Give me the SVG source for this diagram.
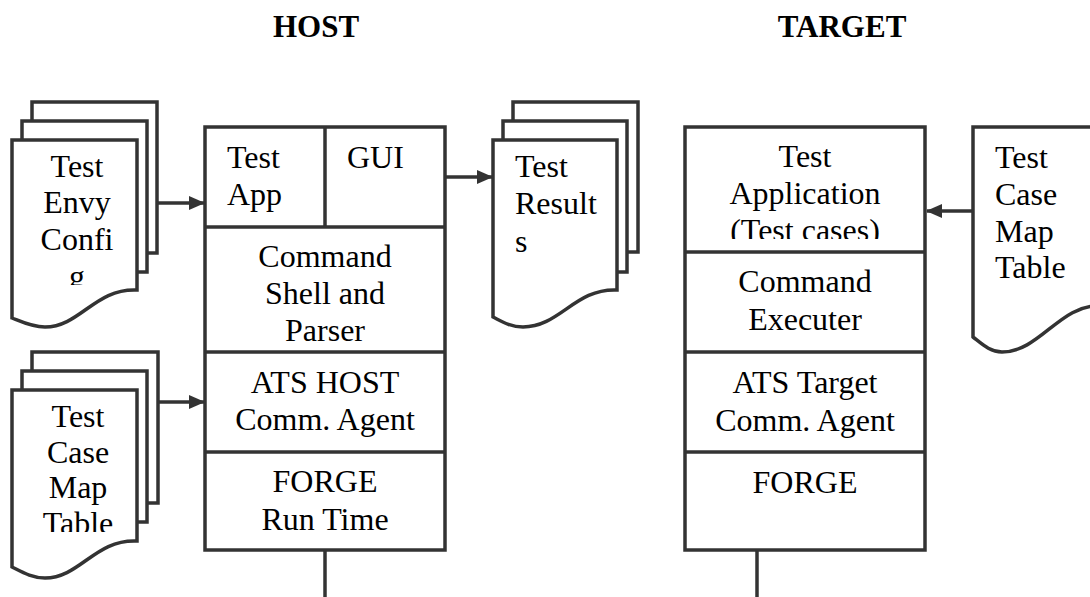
<svg xmlns="http://www.w3.org/2000/svg" width="1090" height="597" viewBox="0 0 1090 597">
  <style>
    .ln { fill: none; stroke: #333; stroke-width: 3.5; }
    .box { fill: #fff; stroke: #333; stroke-width: 3.5; }
    .t { font-family: "Liberation Serif", "Times New Roman", serif; font-size: 32px; fill: #000; }
    .c { text-anchor: middle; }
    .h { font-family: "Liberation Serif", "Times New Roman", serif; font-size: 31px; font-weight: bold; fill: #000; text-anchor: middle; }
  </style>
  <defs>
    <marker id="arr" markerWidth="16" markerHeight="14" refX="15" refY="7" orient="auto" markerUnits="userSpaceOnUse">
      <path d="M0,0 L16,7 L0,14 Z" fill="#333"/>
    </marker>
    <clipPath id="clipEnvy"><rect x="12" y="140" width="125" height="145"/></clipPath>
    <clipPath id="clipMap"><rect x="12" y="390" width="125" height="142"/></clipPath>
    <clipPath id="clipShell"><rect x="205" y="228" width="240" height="122"/></clipPath>
    <clipPath id="clipApp"><rect x="685" y="128" width="240" height="111"/></clipPath>
  </defs>

  <rect width="1090" height="597" fill="#fff"/>

  <!-- headings -->
  <text class="h" x="316" y="37">HOST</text>
  <text class="h" x="842" y="37">TARGET</text>

  <!-- connectors -->
  <g id="connectors">
    <line class="ln" x1="157" y1="203" x2="204" y2="203" marker-end="url(#arr)"/>
    <line class="ln" x1="158" y1="402" x2="204" y2="402" marker-end="url(#arr)"/>
    <line class="ln" x1="445" y1="177" x2="492" y2="177" marker-end="url(#arr)"/>
    <line class="ln" x1="973" y1="211" x2="927" y2="211" marker-end="url(#arr)"/>
    <line class="ln" x1="325" y1="550" x2="325" y2="597"/>
    <line class="ln" x1="757" y1="550" x2="757" y2="597"/>
  </g>

  <!-- stacked document: environment config -->
  <g id="doc-envy-config">
    <rect class="box" x="32" y="102" width="125" height="151"/>
    <rect class="box" x="22" y="121" width="125" height="151"/>
    <path class="box" d="M12,140 H137 V290 C95,288 80,327 45,327 C32,327 22,322 12,318 Z"/>
    <g clip-path="url(#clipEnvy)">
      <text class="t c" x="77" y="177">Test</text>
      <text class="t c" x="77" y="213">Envy</text>
      <text class="t c" x="77" y="250">Confi</text>
      <text class="t c" x="77" y="287">g</text>
    </g>
  </g>

  <!-- stacked document: host test case map table -->
  <g id="doc-host-map-table">
    <rect class="box" x="32" y="352" width="126" height="151"/>
    <rect class="box" x="22" y="371" width="125" height="151"/>
    <path class="box" d="M12,390 H137 V541 C95,539 80,578 45,578 C32,578 22,572 12,567 Z"/>
    <g clip-path="url(#clipMap)">
      <text class="t c" x="78" y="427">Test</text>
      <text class="t c" x="78" y="463">Case</text>
      <text class="t c" x="78" y="498">Map</text>
      <text class="t c" x="78" y="534">Table</text>
    </g>
  </g>

  <!-- host stack -->
  <g id="host-stack">
    <rect class="box" x="205" y="127" width="240" height="423"/>
    <line class="ln" x1="325" y1="127" x2="325" y2="227"/>
    <line class="ln" x1="205" y1="227" x2="445" y2="227"/>
    <line class="ln" x1="205" y1="352" x2="445" y2="352"/>
    <line class="ln" x1="205" y1="452" x2="445" y2="452"/>
  </g>
  <g id="host-test-app">
    <text class="t" x="227" y="168">Test</text>
    <text class="t" x="227" y="205">App</text>
  </g>
  <g id="host-gui">
    <text class="t" x="347" y="168">GUI</text>
  </g>
  <g id="host-shell" clip-path="url(#clipShell)">
    <text class="t c" x="325" y="267">Command</text>
    <text class="t c" x="325" y="304">Shell and</text>
    <text class="t c" x="325" y="341">Parser</text>
  </g>
  <g id="host-comm-agent">
    <text class="t c" x="325" y="393">ATS HOST</text>
    <text class="t c" x="325" y="430">Comm. Agent</text>
  </g>
  <g id="host-forge">
    <text class="t c" x="325" y="492">FORGE</text>
    <text class="t c" x="325" y="530">Run Time</text>
  </g>

  <!-- stacked document: test results -->
  <g id="doc-test-results">
    <rect class="box" x="513" y="102" width="125" height="150"/>
    <rect class="box" x="503" y="121" width="124" height="151"/>
    <path class="box" d="M493,140 H617 V290 C575,288 560,327 523,327 C510,327 501,321 493,317 Z"/>
    <text class="t" x="515" y="177">Test</text>
    <text class="t" x="515" y="214">Result</text>
    <text class="t" x="515" y="252">s</text>
  </g>

  <!-- target stack -->
  <g id="target-stack">
    <rect class="box" x="685" y="127" width="240" height="423"/>
    <line class="ln" x1="685" y1="252" x2="925" y2="252"/>
    <line class="ln" x1="685" y1="352" x2="925" y2="352"/>
    <line class="ln" x1="685" y1="452" x2="925" y2="452"/>
  </g>
  <g id="target-test-app" clip-path="url(#clipApp)">
    <text class="t c" x="805" y="167">Test</text>
    <text class="t c" x="805" y="204">Application</text>
    <text class="t c" x="805" y="241">(Test cases)</text>
  </g>
  <g id="target-executer">
    <text class="t c" x="805" y="292">Command</text>
    <text class="t c" x="805" y="330">Executer</text>
  </g>
  <g id="target-comm-agent">
    <text class="t c" x="805" y="393">ATS Target</text>
    <text class="t c" x="805" y="431">Comm. Agent</text>
  </g>
  <g id="target-forge">
    <text class="t c" x="805" y="493">FORGE</text>
  </g>

  <!-- document: target test case map table -->
  <g id="doc-target-map-table">
    <path class="box" d="M973,127 H1100 V306 C1060,304 1040,352 1002,352 C990,352 982,344 973,337 Z"/>
    <text class="t" x="995" y="168">Test</text>
    <text class="t" x="995" y="205">Case</text>
    <text class="t" x="995" y="242">Map</text>
    <text class="t" x="995" y="278">Table</text>
  </g>
</svg>
